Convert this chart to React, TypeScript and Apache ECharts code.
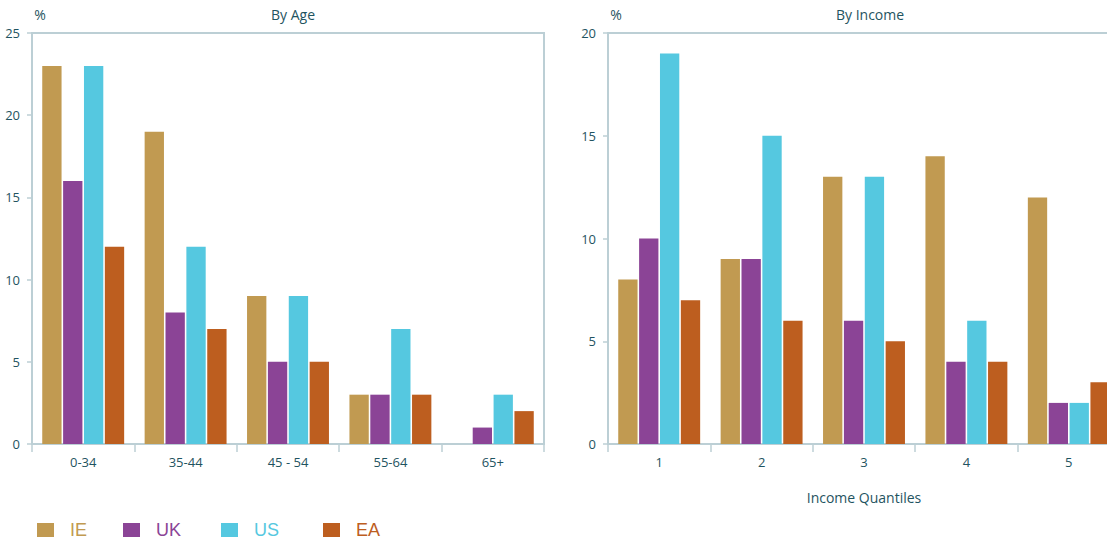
import React, { useEffect, useRef } from "react";
import * as echarts from "echarts";

const ageCategories = ["0-34", "35-44", "45 - 54", "55-64", "65+"];
const incomeCategories = ["1", "2", "3", "4", "5"];
const seriesNames = ["IE", "UK", "US", "EA"];
const seriesColors = ["#c19a51", "#8b4496", "#55c8e0", "#bd5e1f"];

const ageIE = [23, 19, 9, 3, 0];
const ageUK = [16, 8, 5, 3, 1];
const ageUS = [23, 12, 9, 7, 3];
const ageEA = [12, 7, 5, 3, 2];

const incIE = [8, 9, 13, 14, 12];
const incUK = [10, 9, 6, 4, 2];
const incUS = [19, 15, 13, 6, 2];
const incEA = [7, 6, 5, 4, 3];

const ageTicks = [0, 5, 10, 15, 20, 25];
const incomeTicks = [0, 5, 10, 15, 20];

const textColor = "#1f5461";
const lineColor = "#bccfd5";
const font = "'Open Sans', 'Noto Sans', sans-serif";

export default function App() {
  const ref = useRef<HTMLDivElement>(null);
  useEffect(() => {
    if (!ref.current) return;
    const chart = echarts.init(ref.current, undefined, { renderer: "svg" });
    const ageData = [ageIE, ageUK, ageUS, ageEA];
    const incData = [incIE, incUK, incUS, incEA];

    const makeX = (idx: number, cats: string[], name: string) => ({
      type: "category",
      gridIndex: idx,
      data: cats,
      name,
      nameLocation: "middle",
      nameGap: 46,
      nameTextStyle: { color: textColor, fontSize: 14, fontFamily: font },
      axisLine: { lineStyle: { color: lineColor, width: 2 } },
      axisTick: { show: true, length: 8, lineStyle: { color: lineColor, width: 1.5 } },
      axisLabel: { color: textColor, fontSize: 13, fontFamily: font, margin: 11 },
    });
    const makeY = (idx: number, max: number) => ({
      type: "value",
      gridIndex: idx,
      min: 0,
      max,
      interval: 5,
      name: "%",
      nameLocation: "end",
      nameGap: 12,
      nameTextStyle: { color: textColor, fontSize: 14, fontFamily: font, align: "center", padding: [0, 0, 0, 16] },
      splitLine: { show: false },
      axisLine: { show: true, lineStyle: { color: lineColor, width: 2 } },
      axisTick: { show: true, length: 5, lineStyle: { color: lineColor, width: 1.5 } },
      axisLabel: { color: textColor, fontSize: 13, fontFamily: font, margin: 12 },
    });

    const series: any[] = [];
    seriesNames.forEach((n, i) => {
      series.push({
        type: "bar",
        name: n,
        xAxisIndex: 0,
        yAxisIndex: 0,
        data: ageData[i],
        itemStyle: { color: seriesColors[i] },
        barCategoryGap: "20%",
        barGap: "8%",
      });
    });
    seriesNames.forEach((n, i) => {
      series.push({
        type: "bar",
        name: n,
        xAxisIndex: 1,
        yAxisIndex: 1,
        data: incData[i],
        itemStyle: { color: seriesColors[i] },
        barCategoryGap: "20%",
        barGap: "8%",
      });
    });

    const legendLeft = [32, 118, 216, 318];
    const legends = seriesNames.map((n, i) => ({
      show: true,
      left: legendLeft[i],
      top: 516,
      icon: "rect",
      itemWidth: 17,
      itemHeight: 14,
      data: [{ name: n, textStyle: { color: seriesColors[i] } }],
      textStyle: { fontSize: 18, fontFamily: "'Liberation Sans', Arial, sans-serif", padding: [0, 0, 0, 11] },
      selectedMode: false,
    }));

    chart.setOption({
      animation: false,
      title: [
        { text: "By Age", left: 288, top: 2, textAlign: "center", textStyle: { color: textColor, fontSize: 14, fontWeight: "normal", fontFamily: font } },
        { text: "By Income", left: 865, top: 2, textAlign: "center", textStyle: { color: textColor, fontSize: 14, fontWeight: "normal", fontFamily: font } },
      ],
      legend: legends,
      grid: [
        { left: 32, top: 33, width: 512, height: 411, show: true, borderColor: lineColor, borderWidth: 2 },
        { left: 608, top: 33, width: 512, height: 411, show: true, borderColor: lineColor, borderWidth: 2 },
      ],
      xAxis: [makeX(0, ageCategories, ""), makeX(1, incomeCategories, "Income Quantiles")],
      yAxis: [makeY(0, ageTicks[ageTicks.length - 1]), makeY(1, incomeTicks[incomeTicks.length - 1])],
      series,
    });
    return () => chart.dispose();
  }, []);

  return (
    <div style={{ position: "fixed", left: 0, top: 0, width: 1107, height: 545, overflow: "hidden", background: "#fff" }}>
      <div ref={ref} style={{ position: "absolute", left: 0, top: 0, width: 1140, height: 545 }} />
    </div>
  );
}
